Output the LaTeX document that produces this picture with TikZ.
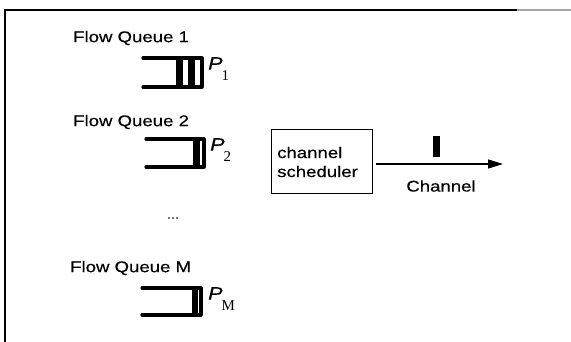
\documentclass[tikz,border=0pt]{standalone}
\usepackage{fontspec}
\usetikzlibrary{arrows.meta}
\newfontfamily\lab[FakeStretch=1.2,FakeBold=0.4]{Liberation Sans}
\newfontfamily\serifsub{Liberation Serif}
\tikzset{
  lbl/.style={inner sep=0pt, font=\lab\fontsize{15.5}{17}\selectfont},
  qline/.style={line width=3.2pt, line cap=round, line join=round},
  pkt/.style={fill=black, draw=none},
  plabel/.style={inner sep=0pt, anchor=north west},
  sched/.style={draw, line width=1pt, minimum width=101pt, minimum height=64pt, inner sep=0pt}
}
\newcommand{\plab}[1]{{\lab\itshape\fontsize{18}{18}\selectfont P}\kern-1pt\raisebox{-11pt}{\serifsub\fontsize{15}{15}\selectfont #1}}
\begin{document}
\begin{tikzpicture}[x=1pt,y=-1pt]
\useasboundingbox (0,0) rectangle (571,342);
% frame
\draw[line width=1.2pt] (5,342) -- (5,10) -- (517,10);
\draw[line width=1.2pt, black!35] (517,10) -- (571,10);

% Queue 1
\node[lbl, anchor=west] (t1) at (73,38) {Flow Queue 1};
\draw[qline] (143,58) -- (202,58) -- (202,87) -- (143,87);
\fill[pkt] (176,59) rectangle (183,86);
\fill[pkt] (188,59) rectangle (195,86);
\node[plabel] (p1) at (208,57) {\plab{1}};

% Queue 2
\node[lbl, anchor=west] (t2) at (73,122) {Flow Queue 2};
\draw[qline] (146,139) -- (204,139) -- (204,167) -- (146,167);
\fill[pkt] (193,140) rectangle (200,166);
\node[plabel] (p2) at (210,138) {\plab{2}};

% dots
\node[lbl, font=\lab\fontsize{12}{12}\selectfont] (dots) at (173,218) {...};

% Queue M
\node[lbl, anchor=west] (tm) at (70,268) {Flow Queue M};
\draw[qline] (142,288) -- (201,288) -- (201,315) -- (142,315);
\fill[pkt] (192,289) rectangle (198,314);
\node[plabel] (pm) at (208,287) {\plab{M}};

% scheduler
\node[sched] (s) at (321.5,162) {};
\node[lbl, align=left, anchor=west, font=\lab\fontsize{15.5}{19}\selectfont] (st) at (277,162) {channel\\scheduler};

% channel
\coordinate (cend) at (503,164);
\draw[line width=1.5pt, -{Triangle[length=15pt,width=9pt]}] (s.east |- cend) ++(3,0) -- (cend);
\fill[pkt] (433,136) rectangle (440,157);
\node[lbl] (ch) at (441,186) {Channel};
\end{tikzpicture}
\end{document}
